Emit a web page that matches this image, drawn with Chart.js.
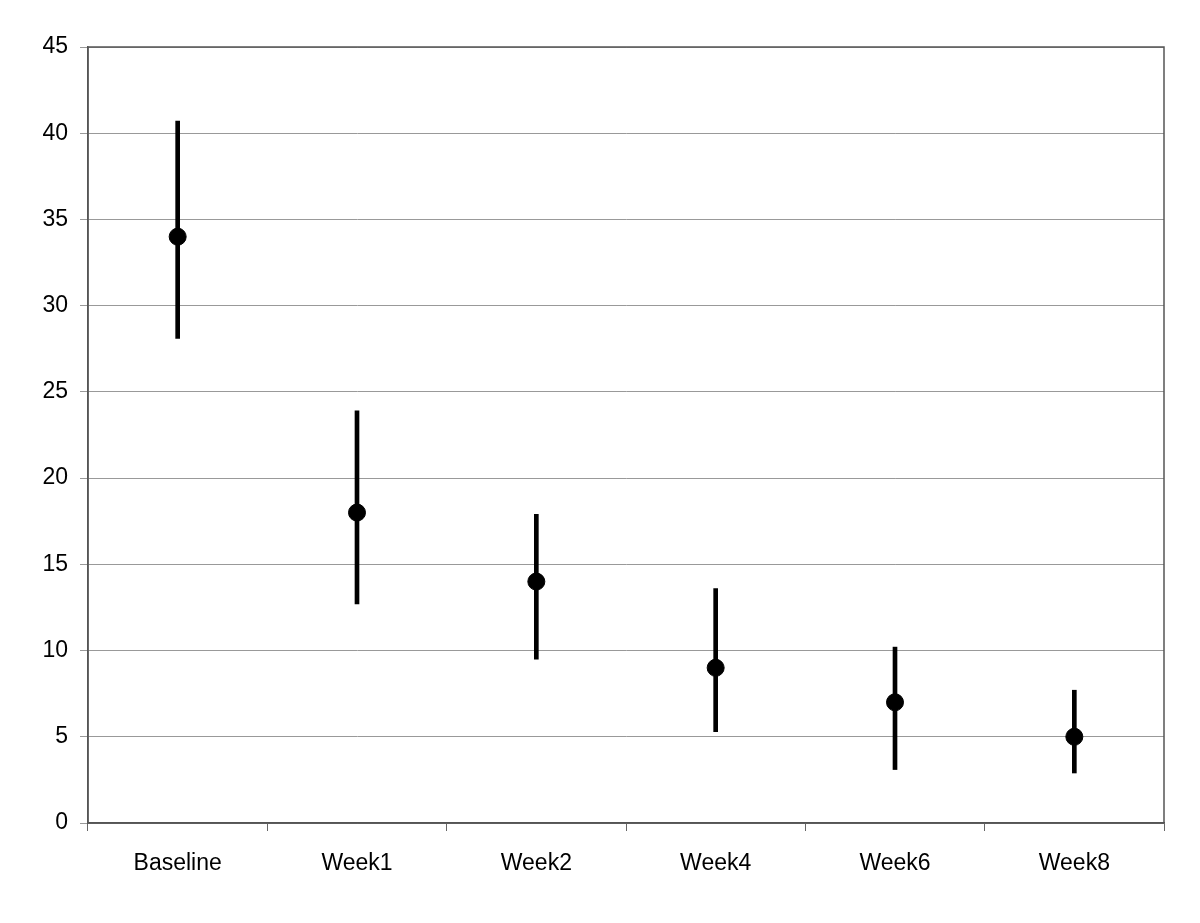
<!DOCTYPE html>
<html>
<head>
<meta charset="UTF-8">
<title>Scores over time</title>
<script src="https://cdn.jsdelivr.net/npm/chart.js@4"></script>
<style>
  body { margin: 0; background: #fff; }
  #chart { display: block; }
</style>
</head>
<body>
<canvas id="chart" width="1200" height="923"></canvas>
<script>
// categories and values
const visits = ['Baseline', 'Week1', 'Week2', 'Week4', 'Week6', 'Week8'];
const means = [34.0, 18.0, 14.0, 9.0, 7.0, 5.0];
const lower = [28.1, 12.7, 9.5, 5.3, 3.1, 2.9];
const upper = [40.7, 23.9, 17.9, 13.6, 10.2, 7.7];
const yTicks = [0, 5, 10, 15, 20, 25, 30, 35, 40, 45];

// box round the plot area
const frame = {
  id: 'frame',
  afterDraw(chart) {
    const a = chart.chartArea, c = chart.ctx;
    c.save();
    c.strokeStyle = '#555';
    c.lineWidth = 1.5;
    c.strokeRect(a.left, a.top, a.right - a.left, a.bottom - a.top);
    c.restore();
  }
};

Chart.defaults.font.family = '"Liberation Sans", Arial, sans-serif';
Chart.defaults.font.size = 23;
Chart.defaults.color = '#000';

new Chart(document.getElementById('chart'), {
  data: {
    labels: visits,
    datasets: [
      {
        type: 'scatter',
        data: means.map((m, i) => ({ x: visits[i], y: m })),
        showLine: false,
        pointRadius: 8.5,
        pointBackgroundColor: '#000',
        pointBorderColor: '#000',
        order: 0
      },
      {
        type: 'bar',
        data: lower.map((lo, i) => [lo, upper[i]]),
        backgroundColor: '#000',
        barThickness: 4,
        order: 1
      }
    ]
  },
  options: {
    responsive: false,
    animation: false,
    layout: { padding: { top: 47, right: 36, left: 0, bottom: 0 } },
    plugins: { legend: { display: false }, tooltip: { enabled: false } },
    scales: {
      x: {
        type: 'category',
        offset: true,
        grid: { offset: true, drawOnChartArea: false, tickLength: 8, color: '#666' },
        border: { color: '#555', width: 1.5 },
        ticks: { padding: 19, maxRotation: 0 },
        afterFit(s) { s.height = 100; }
      },
      y: {
        min: 0,
        max: 45,
        afterBuildTicks(s) { s.ticks = yTicks.map(v => ({ value: v })); },
        grid: { color: '#999', lineWidth: 1, tickLength: 8 },
        border: { color: '#555', width: 1.5 },
        ticks: { padding: 12 },
        afterFit(s) { s.width = 88; }
      }
    }
  },
  plugins: [frame]
});
</script>
</body>
</html>
